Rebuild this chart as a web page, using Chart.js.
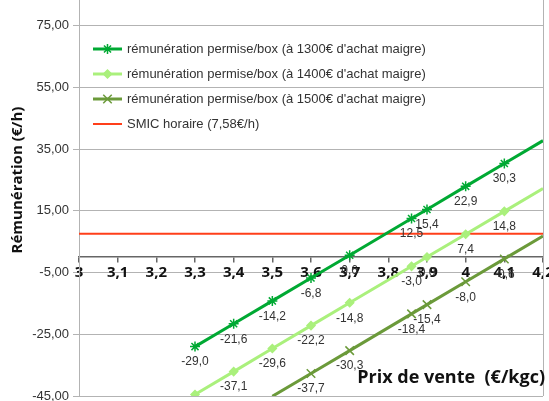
<!DOCTYPE html>
<html>
<head>
<meta charset="utf-8">
<script src="https://cdn.jsdelivr.net/npm/chart.js@4.4.0/dist/chart.umd.min.js"></script>
<style>
  html, body { margin: 0; padding: 0; background: #fff; }
</style>
</head>
<body>
<canvas id="remChart" width="549" height="401"></canvas>
<script>
// Prix de vente (€/kgc) and rémunération (€/h)
const prixVente = [3.3, 3.4, 3.5, 3.6, 3.7, 3.86, 3.9, 4.0, 4.1, 4.2];
const remun1300 = [-29.0, -21.6, -14.2, -6.8, 0.6, 12.5, 15.4, 22.9, 30.3, 37.7];
const remun1400 = [-44.5, -37.1, -29.6, -22.2, -14.8, -3.0, 0.0, 7.4, 14.8, 22.2];
const remun1500 = [null, null, -45.1, -37.7, -30.3, -18.4, -15.4, -8.0, -0.6, 6.8];
const smicX = [3, 4.2];
const smicHoraire = [7.58, 7.58];

const seriesLabels = [
    "rémunération permise/box (à 1300€ d'achat maigre)",
    "rémunération permise/box (à 1400€ d'achat maigre)",
    "rémunération permise/box (à 1500€ d'achat maigre)",
    "SMIC horaire (7,58€/h)"
];
const xTicks = [3, 3.1, 3.2, 3.3, 3.4, 3.5, 3.6, 3.7, 3.8, 3.9, 4, 4.1, 4.2];
const yTicks = [-45, -25, -5, 15, 35, 55, 75];
const xTitle = "Prix de vente  (€/kgc)";
const yTitle = "Rémunération (€/h)";

const X_MIN = 3, X_MAX = 4.2, Y_MIN = -45, Y_MAX = 83.26;

function toPoints(xs, ys) {
    return xs.map((x, i) => ({ x: x, y: ys[i] })).filter(p => p.y !== null);
}

function frNum(v, d) {
    return v.toFixed(d).replace(".", ",");
}

// hide markers that fall outside the visible area
function radiusFor(r) {
    return function (c) {
        const p = c.raw;
        if (!p || p.x >= X_MAX || p.y < Y_MIN) return 0;
        return r;
    };
}

const styles = [
    { color: "#00a933", pointStyle: "star", radius: 5, width: 3 },
    { color: "#aaf07c", pointStyle: "rectRot", radius: 4, width: 3 },
    { color: "#6b9a3a", pointStyle: "crossRot", radius: 6, width: 3 },
    { color: "#ff3f1a", pointStyle: false, radius: 0, width: 2 }
];

// extra drawing: frame, axis titles, legend box, data labels
const decorPlugin = {
    id: "decor",
    afterDatasetsDraw(chart) {
        const ctx = chart.ctx;
        const area = chart.chartArea;
        ctx.save();

        // right frame line
        ctx.strokeStyle = "#b3b3b3";
        ctx.lineWidth = 1;
        ctx.beginPath();
        ctx.moveTo(area.right + 0.5, area.top);
        ctx.lineTo(area.right + 0.5, area.bottom);
        ctx.stroke();

        // data labels under each point
        ctx.font = "12px 'Liberation Sans'";
        ctx.fillStyle = "#333";
        ctx.textAlign = "center";
        ctx.textBaseline = "middle";
        for (let d = 0; d < 3; d++) {
            const meta = chart.getDatasetMeta(d);
            meta.data.forEach((pt, i) => {
                const raw = chart.data.datasets[d].data[i];
                if (raw.x >= X_MAX || raw.y < Y_MIN) return;
                ctx.fillText(frNum(raw.y, 1), pt.x, pt.y + 15.5);
            });
        }

        // legend
        const drawPoint = Chart.helpers && Chart.helpers.drawPoint;
        ctx.textAlign = "left";
        ctx.font = "13px 'Liberation Sans'";
        seriesLabels.forEach((label, i) => {
            const y = 49 + 25 * i;
            const s = styles[i];
            ctx.strokeStyle = s.color;
            ctx.fillStyle = s.color;
            ctx.lineWidth = s.width;
            ctx.beginPath();
            ctx.moveTo(93, y);
            ctx.lineTo(122, y);
            ctx.stroke();
            if (s.pointStyle && drawPoint) {
                ctx.lineWidth = 1.5;
                drawPoint(ctx, { pointStyle: s.pointStyle, radius: s.radius, borderWidth: 1.5, rotation: 0 }, 107.5, y);
            }
            ctx.fillStyle = "#333";
            ctx.fillText(label, 127, y + 0.5);
        });

        // axis titles
        ctx.fillStyle = "#111";
        ctx.font = "bold 18px 'Open Sans'";
        ctx.textAlign = "right";
        ctx.fillText(xTitle, 545, 378);

        ctx.translate(18, 180);
        ctx.rotate(-Math.PI / 2);
        ctx.textAlign = "center";
        ctx.font = "bold 15px 'Open Sans'";
        ctx.fillText(yTitle, 0, 0);
        ctx.restore();
    }
};

const ctx = document.getElementById("remChart").getContext("2d");
const remChart = new Chart(ctx, {
    type: "line",
    data: {
        datasets: [
            { label: seriesLabels[0], data: toPoints(prixVente, remun1300) },
            { label: seriesLabels[1], data: toPoints(prixVente, remun1400) },
            { label: seriesLabels[2], data: toPoints(prixVente, remun1500) },
            { label: seriesLabels[3], data: toPoints(smicX, smicHoraire) }
        ].map((ds, i) => Object.assign(ds, {
            borderColor: styles[i].color,
            backgroundColor: styles[i].color,
            borderWidth: styles[i].width,
            pointStyle: styles[i].pointStyle,
            pointRadius: radiusFor(styles[i].radius),
            pointBorderWidth: 1.5,
            pointHoverRadius: 0,
            tension: 0,
            fill: false,
            clip: 0
        }))
    },
    options: {
        responsive: false,
        animation: false,
        devicePixelRatio: 1,
        layout: { autoPadding: false, padding: { top: 0, right: 6, bottom: 5, left: 0 } },
        plugins: {
            legend: { display: false },
            tooltip: { enabled: false }
        },
        scales: {
            x: {
                type: "linear",
                position: { y: 0 },
                min: X_MIN,
                max: X_MAX,
                afterBuildTicks: s => { s.ticks = xTicks.map(v => ({ value: v })); },
                afterFit: s => { s.paddingLeft = 0; s.paddingRight = 0; },
                ticks: {
                    callback: v => String(Math.round(v * 10) / 10).replace(".", ","),
                    font: { family: "Open Sans", weight: "bold", size: 15 },
                    color: "#111",
                    padding: 2,
                    maxRotation: 0,
                    autoSkip: false
                },
                grid: { drawOnChartArea: false, drawTicks: true, tickLength: 5, color: "#666", lineWidth: 1.5 },
                border: { display: true, color: "#666", width: 1.5 }
            },
            y: {
                type: "linear",
                min: Y_MIN,
                max: Y_MAX,
                afterBuildTicks: s => { s.ticks = yTicks.map(v => ({ value: v })); },
                afterFit: s => { s.width = 79; s.paddingTop = 0; s.paddingBottom = 0; },
                ticks: {
                    callback: v => frNum(v, 2),
                    font: { family: "Liberation Sans", size: 13 },
                    color: "#333",
                    padding: 4
                },
                grid: { color: "#b3b3b3", tickLength: 6 },
                border: { color: "#b3b3b3" }
            }
        }
    },
    plugins: [decorPlugin]
});
</script>
</body>
</html>
